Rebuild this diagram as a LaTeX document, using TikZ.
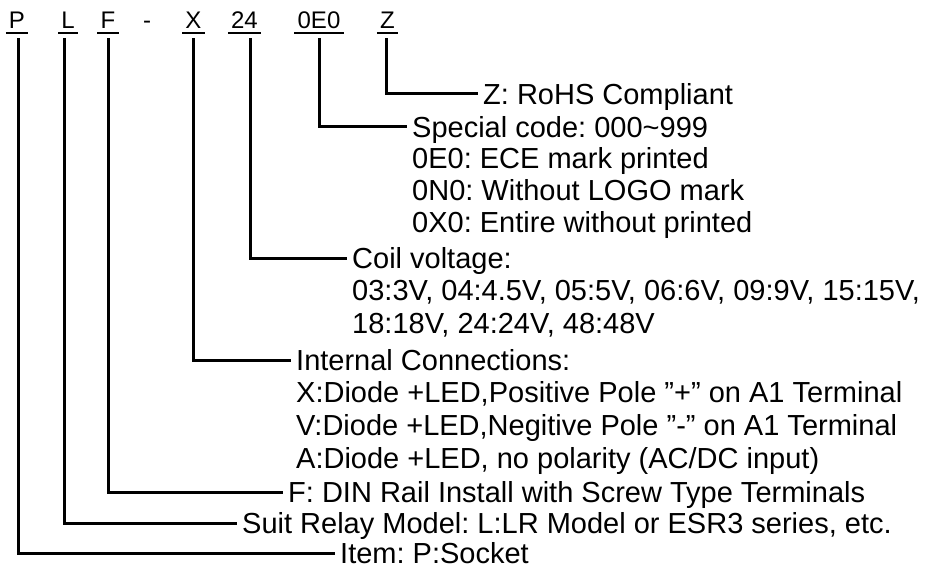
\documentclass[tikz,border=0pt]{standalone}
\usepackage{fontspec}
\setmainfont{Liberation Sans}
\usetikzlibrary{positioning}
\frenchspacing
\tikzstyle{code} = [font=\fontsize{24}{28}\selectfont, inner xsep=3pt, inner ysep=0pt, text height=17pt, text depth=4pt, anchor=base]
\tikzstyle{desc} = [font=\fontsize{29}{32}\selectfont, inner xsep=5pt, inner ysep=0pt, text height=20.8pt, text depth=0pt, anchor=west]
\tikzstyle{lead} = [line width=3pt]
\tikzstyle{uline} = [line width=2pt]

\begin{document}
\begin{tikzpicture}[x=1pt, y=-1pt]
\useasboundingbox (0,0) rectangle (929,572);

	% part number
	\node[code] (P) at (17,29) {P};
	\node[code] (L) at (68,29) {L};
	\node[code] (F) at (108,29) {F};
	\node[code] (hyph) at (147,29) {-};
	\node[code] (X) at (193.5,29) {X};
	\node[code] (volt) at (244.5,29) {24};
	\node[code] (spec) at (319,29) {0E0};
	\node[code] (Z) at (387.5,29) {Z};

	\draw[uline] (P.south west) -- (P.south east);
	\draw[uline] (L.south west) -- (L.south east);
	\draw[uline] (F.south west) -- (F.south east);
	\draw[uline] (X.south west) -- (X.south east);
	\draw[uline] (volt.south west) -- (volt.south east);
	\draw[uline] (spec.south west) -- (spec.south east);
	\draw[uline] (Z.south west) -- (Z.south east);

	% descriptions
	\node[desc] (rohs) at (478,94) {Z: RoHS Compliant};

	\node[desc] (special) at (407,127) {Special code: 000\textasciitilde999};
	\node[desc] at (407,158) {0E0: ECE mark printed};
	\node[desc] at (407,190) {0N0: Without LOGO mark};
	\node[desc] at (407,222) {0X0: Entire without printed};

	\node[desc] (coil) at (347,258) {Coil voltage:};
	\node[desc] at (347,290) {03:3V, 04:4.5V, 05:5V, 06:6V, 09:9V, 15:15V,};
	\node[desc] at (347,323) {18:18V, 24:24V, 48:48V};

	\node[desc] (conn) at (291,360) {Internal Connections:};
	\node[desc] at (291,392) {X:Diode +LED,Positive Pole ”+” on A1 Terminal};
	\node[desc] at (291,425) {V:Diode +LED,Negitive Pole ”-” on A1 Terminal};
	\node[desc] at (291,458) {A:Diode +LED, no polarity (AC/DC input)};

	\node[desc] (din) at (283,492) {F: DIN Rail Install with Screw Type Terminals};
	\node[desc] (suit) at (237,523) {Suit Relay Model: L:LR Model or ESR3 series, etc.};
	\node[desc] (item) at (335,553) {Item: P:Socket};

	% leaders
	\draw[lead] ([xshift=-1.5pt,yshift=-5pt]Z.south) |- (rohs.west);
	\draw[lead] ([yshift=-5pt]spec.south) |- (special.west);
	\draw[lead] ([xshift=5.5pt,yshift=-5pt]volt.south) |- (coil.west);
	\draw[lead] ([yshift=-5pt]X.south) |- (conn.west);
	\draw[lead] ([yshift=-5pt]F.south) |- (din.west);
	\draw[lead] ([xshift=-4pt,yshift=-5pt]L.south) |- (suit.west);
	\draw[lead] ([xshift=1pt,yshift=-5pt]P.south) |- (item.west);
\end{tikzpicture}
\end{document}
